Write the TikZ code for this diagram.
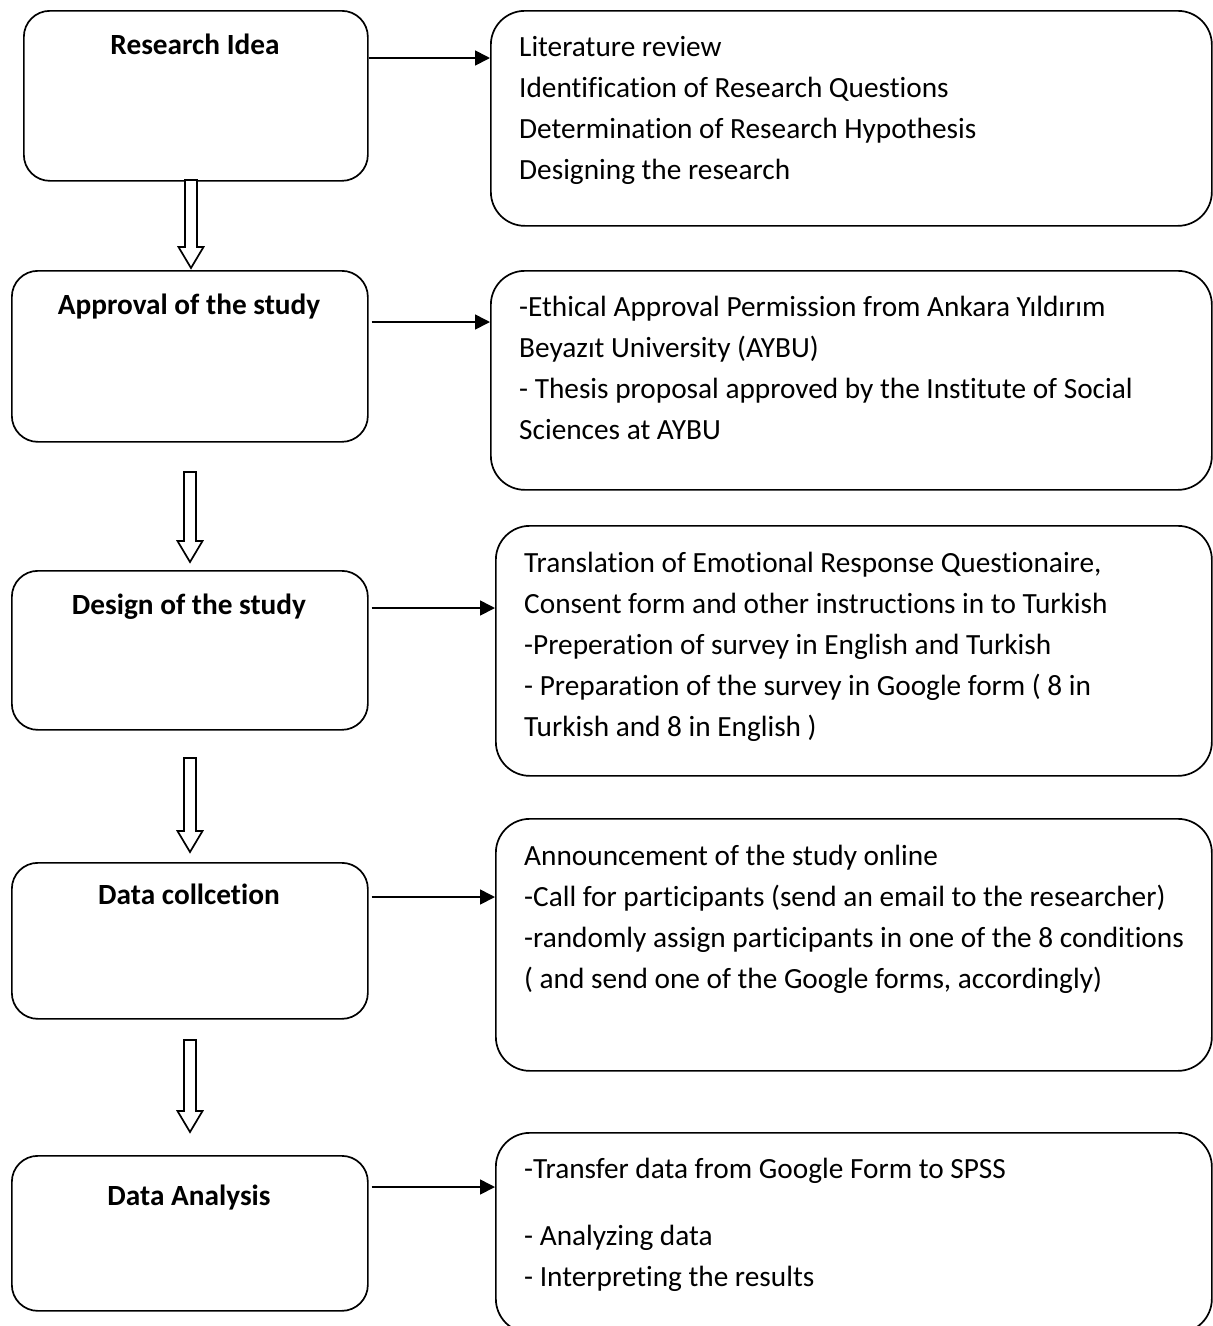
\documentclass[tikz,border=0pt]{standalone}
\usepackage{fontspec}
\setmainfont{Carlito}[RawFeature={-liga;-clig;-calt;-dlig}]
\usetikzlibrary{arrows.meta,calc}
\tikzset{
  lbox/.style={draw, line width=1.7pt, rounded corners=26pt, anchor=north west, inner sep=0pt},
  rbox/.style={draw, line width=1.7pt, rounded corners=34pt, anchor=north west, inner sep=0pt},
  ltext/.style={anchor=base, inner sep=0pt, font=\fontsize{29.3}{41}\selectfont\bfseries},
  rtext/.style={anchor=north west, inner sep=0pt, align=left, font=\fontsize{29.3}{41}\selectfont},
  arr/.style={line width=1.7pt, -{Triangle[length=15pt,width=15pt]}},
  hol/.style={draw, line width=1.7pt, fill=white, line join=miter}
}
\newcommand\hollowarrow[2]{%
  \draw[hol] ($(#2 |- #1)+(-6,0)$) -- ($(#2)+(-6,-21)$) -- ($(#2)+(-12.5,-21)$) -- (#2)
    -- ($(#2)+(12.5,-21)$) -- ($(#2)+(6,-21)$) -- ($(#2 |- #1)+(6,0)$) -- cycle;}
\begin{document}
\begin{tikzpicture}[x=1pt,y=-1pt]
\useasboundingbox (0,0) rectangle (1213,1326);
% left boxes
\node[lbox, minimum width=344pt, minimum height=170pt] (L1) at (23,10) {};
\node[lbox, minimum width=356pt, minimum height=171pt] (L2) at (11,270) {};
\node[lbox, minimum width=356pt, minimum height=159pt] (L3) at (11,570) {};
\node[lbox, minimum width=356pt, minimum height=156pt] (L4) at (11,862) {};
\node[lbox, minimum width=356pt, minimum height=155pt] (L5) at (11,1155) {};
\node[ltext] (T1) at (195,54) {Research Idea};
\node[ltext] (T2) at (189,314) {Approval of the study};
\node[ltext] (T3) at (189,614) {Design of the study};
\node[ltext] (T4) at (189,904) {Data collcetion};
\node[ltext] (T5) at (189,1205) {Data Analysis};
% right boxes
\node[rbox, minimum width=721pt, minimum height=215pt] (R1) at (490,10) {};
\node[rbox, minimum width=721pt, minimum height=219pt] (R2) at (490,270) {};
\node[rbox, minimum width=716pt, minimum height=250pt] (R3) at (495,525) {};
\node[rbox, minimum width=716pt, minimum height=252pt] (R4) at (495,818) {};
\node[rbox, minimum width=716pt, minimum height=200pt] (R5) at (495,1132) {};
\node[rtext] (S1) at (519,36) {Literature review\\Identification of Research Questions\\Determination of Research Hypothesis\\Designing the research};
\node[rtext] (S2) at (519,296) {-Ethical Approval Permission from Ankara Yıldırım\\Beyazıt University (AYBU)\\- Thesis proposal approved by the Institute of Social\\Sciences at AYBU};
\node[rtext] (S3) at (524,552) {Translation of Emotional Response Questionaire,\\Consent form and other instructions in to Turkish\\-Preperation of survey in English and Turkish\\- Preparation of the survey in Google form ( 8 in\\Turkish and 8 in English )};
\node[rtext] (S4) at (524,845) {Announcement of the study online\\-Call for participants (send an email to the researcher)\\-randomly assign participants in one of the 8 conditions\\( and send one of the Google forms, accordingly)};
\node[rtext] (S5) at (524,1158) {-Transfer data from Google Form to SPSS\\[26pt]- Analyzing data\\- Interpreting the results};
% horizontal arrows
\coordinate (y1) at (0,58);
\coordinate (y2) at (0,322);
\coordinate (y3) at (0,608);
\coordinate (y4) at (0,897);
\coordinate (y5) at (0,1187);
\draw[arr] (L1.east |- y1) -- (R1.west |- y1);
\draw[arr, shorten <=3pt] (L2.east |- y2) -- (R2.west |- y2);
\draw[arr, shorten <=3pt] (L3.east |- y3) -- (R3.west |- y3);
\draw[arr, shorten <=3pt] (L4.east |- y4) -- (R4.west |- y4);
\draw[arr, shorten <=3pt] (L5.east |- y5) -- (R5.west |- y5);
% hollow arrows
\coordinate (a1s) at (191,180);
\coordinate (a1e) at (191,268);
\coordinate (a2s) at (190,472);
\coordinate (a2e) at (190,562);
\coordinate (a3s) at (190,758);
\coordinate (a3e) at (190,852);
\coordinate (a4s) at (190,1040);
\coordinate (a4e) at (190,1132);
\hollowarrow{a1s}{a1e}
\hollowarrow{a2s}{a2e}
\hollowarrow{a3s}{a3e}
\hollowarrow{a4s}{a4e}
\end{tikzpicture}
\end{document}
